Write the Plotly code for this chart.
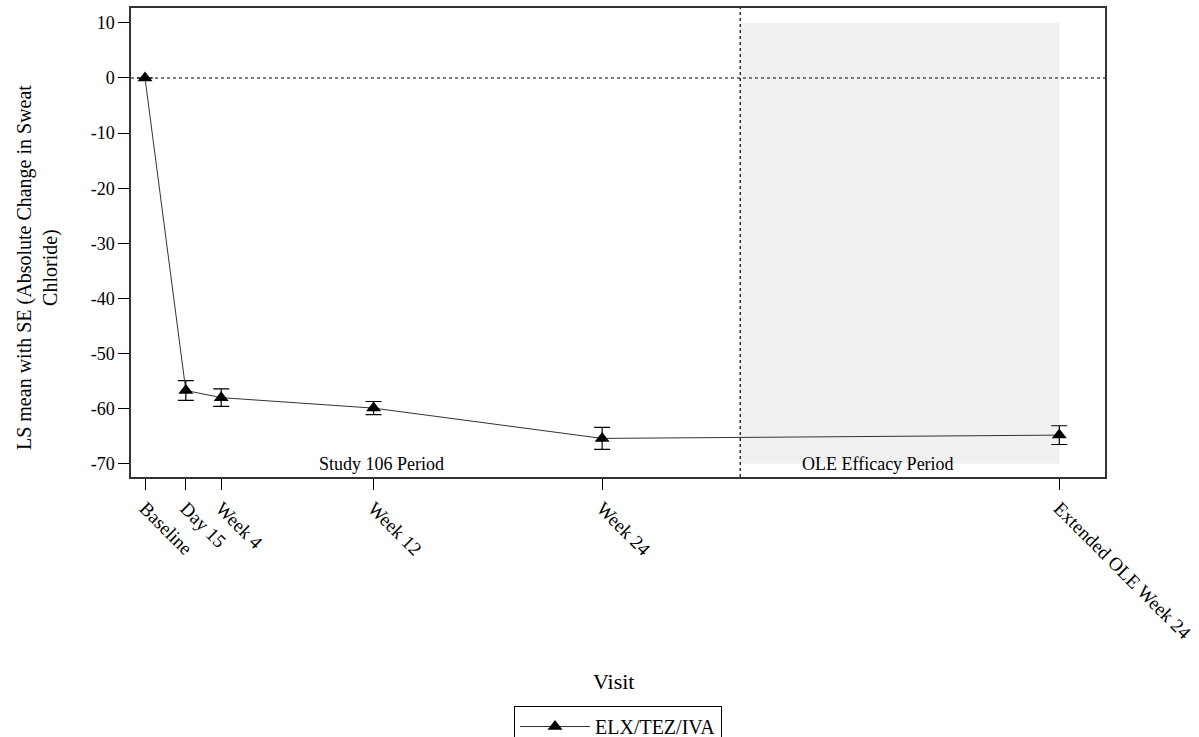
import plotly.graph_objects as go

# Visits and their timing in weeks from baseline
visits = ["Baseline", "Day 15", "Week 4", "Week 12", "Week 24", "Extended OLE Week 24"]
visit_weeks = [0, 15 / 7, 4, 12, 24, 48]

# LS mean absolute change in sweat chloride and its standard error
ls_mean = [0.0, -56.7, -58.0, -59.9, -65.4, -64.8]
se = [0.0, 1.8, 1.6, 1.2, 2.0, 1.7]

# Y-axis ticks
y_ticks = [10, 0, -10, -20, -30, -40, -50, -60, -70]
y_ticktext = ["10", "0", "-10", "-20", "-30", "-40", "-50", "-60", "-70"]

# Period boundary (weeks) and shaded OLE efficacy window
ole_start = 31.25
ole_end = 48
shade_y = [-70, 10]

FONT = "Liberation Serif, Times New Roman, Times, serif"

fig = go.Figure()

# Shaded OLE efficacy period
fig.add_shape(type="rect", xref="x", yref="y",
              x0=ole_start, x1=ole_end, y0=shade_y[0], y1=shade_y[1],
              fillcolor="#f0f0f0", line=dict(width=0), layer="below")

# Reference lines: zero change and period boundary
fig.add_shape(type="line", xref="paper", yref="y", x0=0, x1=1, y0=0, y1=0,
              line=dict(color="black", width=1.2, dash="dot"))
fig.add_shape(type="line", xref="x", yref="paper", x0=ole_start, x1=ole_start, y0=0, y1=1,
              line=dict(color="black", width=1.2, dash="dot"))

fig.add_trace(go.Scatter(
    x=visit_weeks, y=ls_mean, mode="lines+markers", name="ELX/TEZ/IVA",
    line=dict(color="#333333", width=1),
    marker=dict(symbol="triangle-up", size=13, color="black"),
    error_y=dict(type="data", array=se, visible=True, color="black", thickness=1.2, width=8),
))

fig.add_annotation(x=12.4, y=-70, xref="x", yref="y", text="Study 106 Period",
                   showarrow=False, yanchor="middle", font=dict(family=FONT, size=18, color="black"))
fig.add_annotation(x=38.5, y=-70, xref="x", yref="y", text="OLE Efficacy Period",
                   showarrow=False, yanchor="middle", font=dict(family=FONT, size=18, color="black"))

fig.add_annotation(x=0.495, y=-0.437, xref="paper", yref="paper", text="Visit",
                   showarrow=False, yanchor="middle", font=dict(family=FONT, size=22, color="black"))

# Y-axis title, two centred lines rotated
fig.add_annotation(x=-0.0965, y=0.4456, xref="paper", yref="paper",
                   text="LS mean with SE (Absolute Change in Sweat<br>Chloride)",
                   showarrow=False, textangle=-90, xanchor="center", yanchor="middle",
                   font=dict(family=FONT, size=20, color="black"))

fig.update_xaxes(
    range=[-0.735, 50.4], tickmode="array", tickvals=visit_weeks, ticktext=visits,
    tickangle=45, ticks="outside", ticklen=11, tickcolor="black",
    showline=True, linecolor="#333333", linewidth=1.5, mirror=True,
    showgrid=False, zeroline=False, automargin=False, ticklabeloverflow="allow",
    tickfont=dict(family=FONT, size=19, color="black"),
)
fig.update_yaxes(
    range=[-72.4, 12.7], tickmode="array", tickvals=y_ticks, ticktext=y_ticktext,
    ticks="outside", ticklen=11, tickcolor="black",
    showline=True, linecolor="#333333", linewidth=1.5, mirror=True,
    showgrid=False, zeroline=False, automargin=False,
    tickfont=dict(family=FONT, size=18, color="black"),
)

fig.update_layout(
    width=1199, height=737,
    margin=dict(l=131, r=94, t=8, b=260),
    plot_bgcolor="white", paper_bgcolor="white",
    showlegend=True,
    legend=dict(x=0.5, y=0.042, xref="paper", yref="container",
                xanchor="center", yanchor="top", orientation="h",
                bordercolor="black", borderwidth=1, itemwidth=70,
                font=dict(family=FONT, size=20, color="black")),
)

fig.write_html("out.html")
